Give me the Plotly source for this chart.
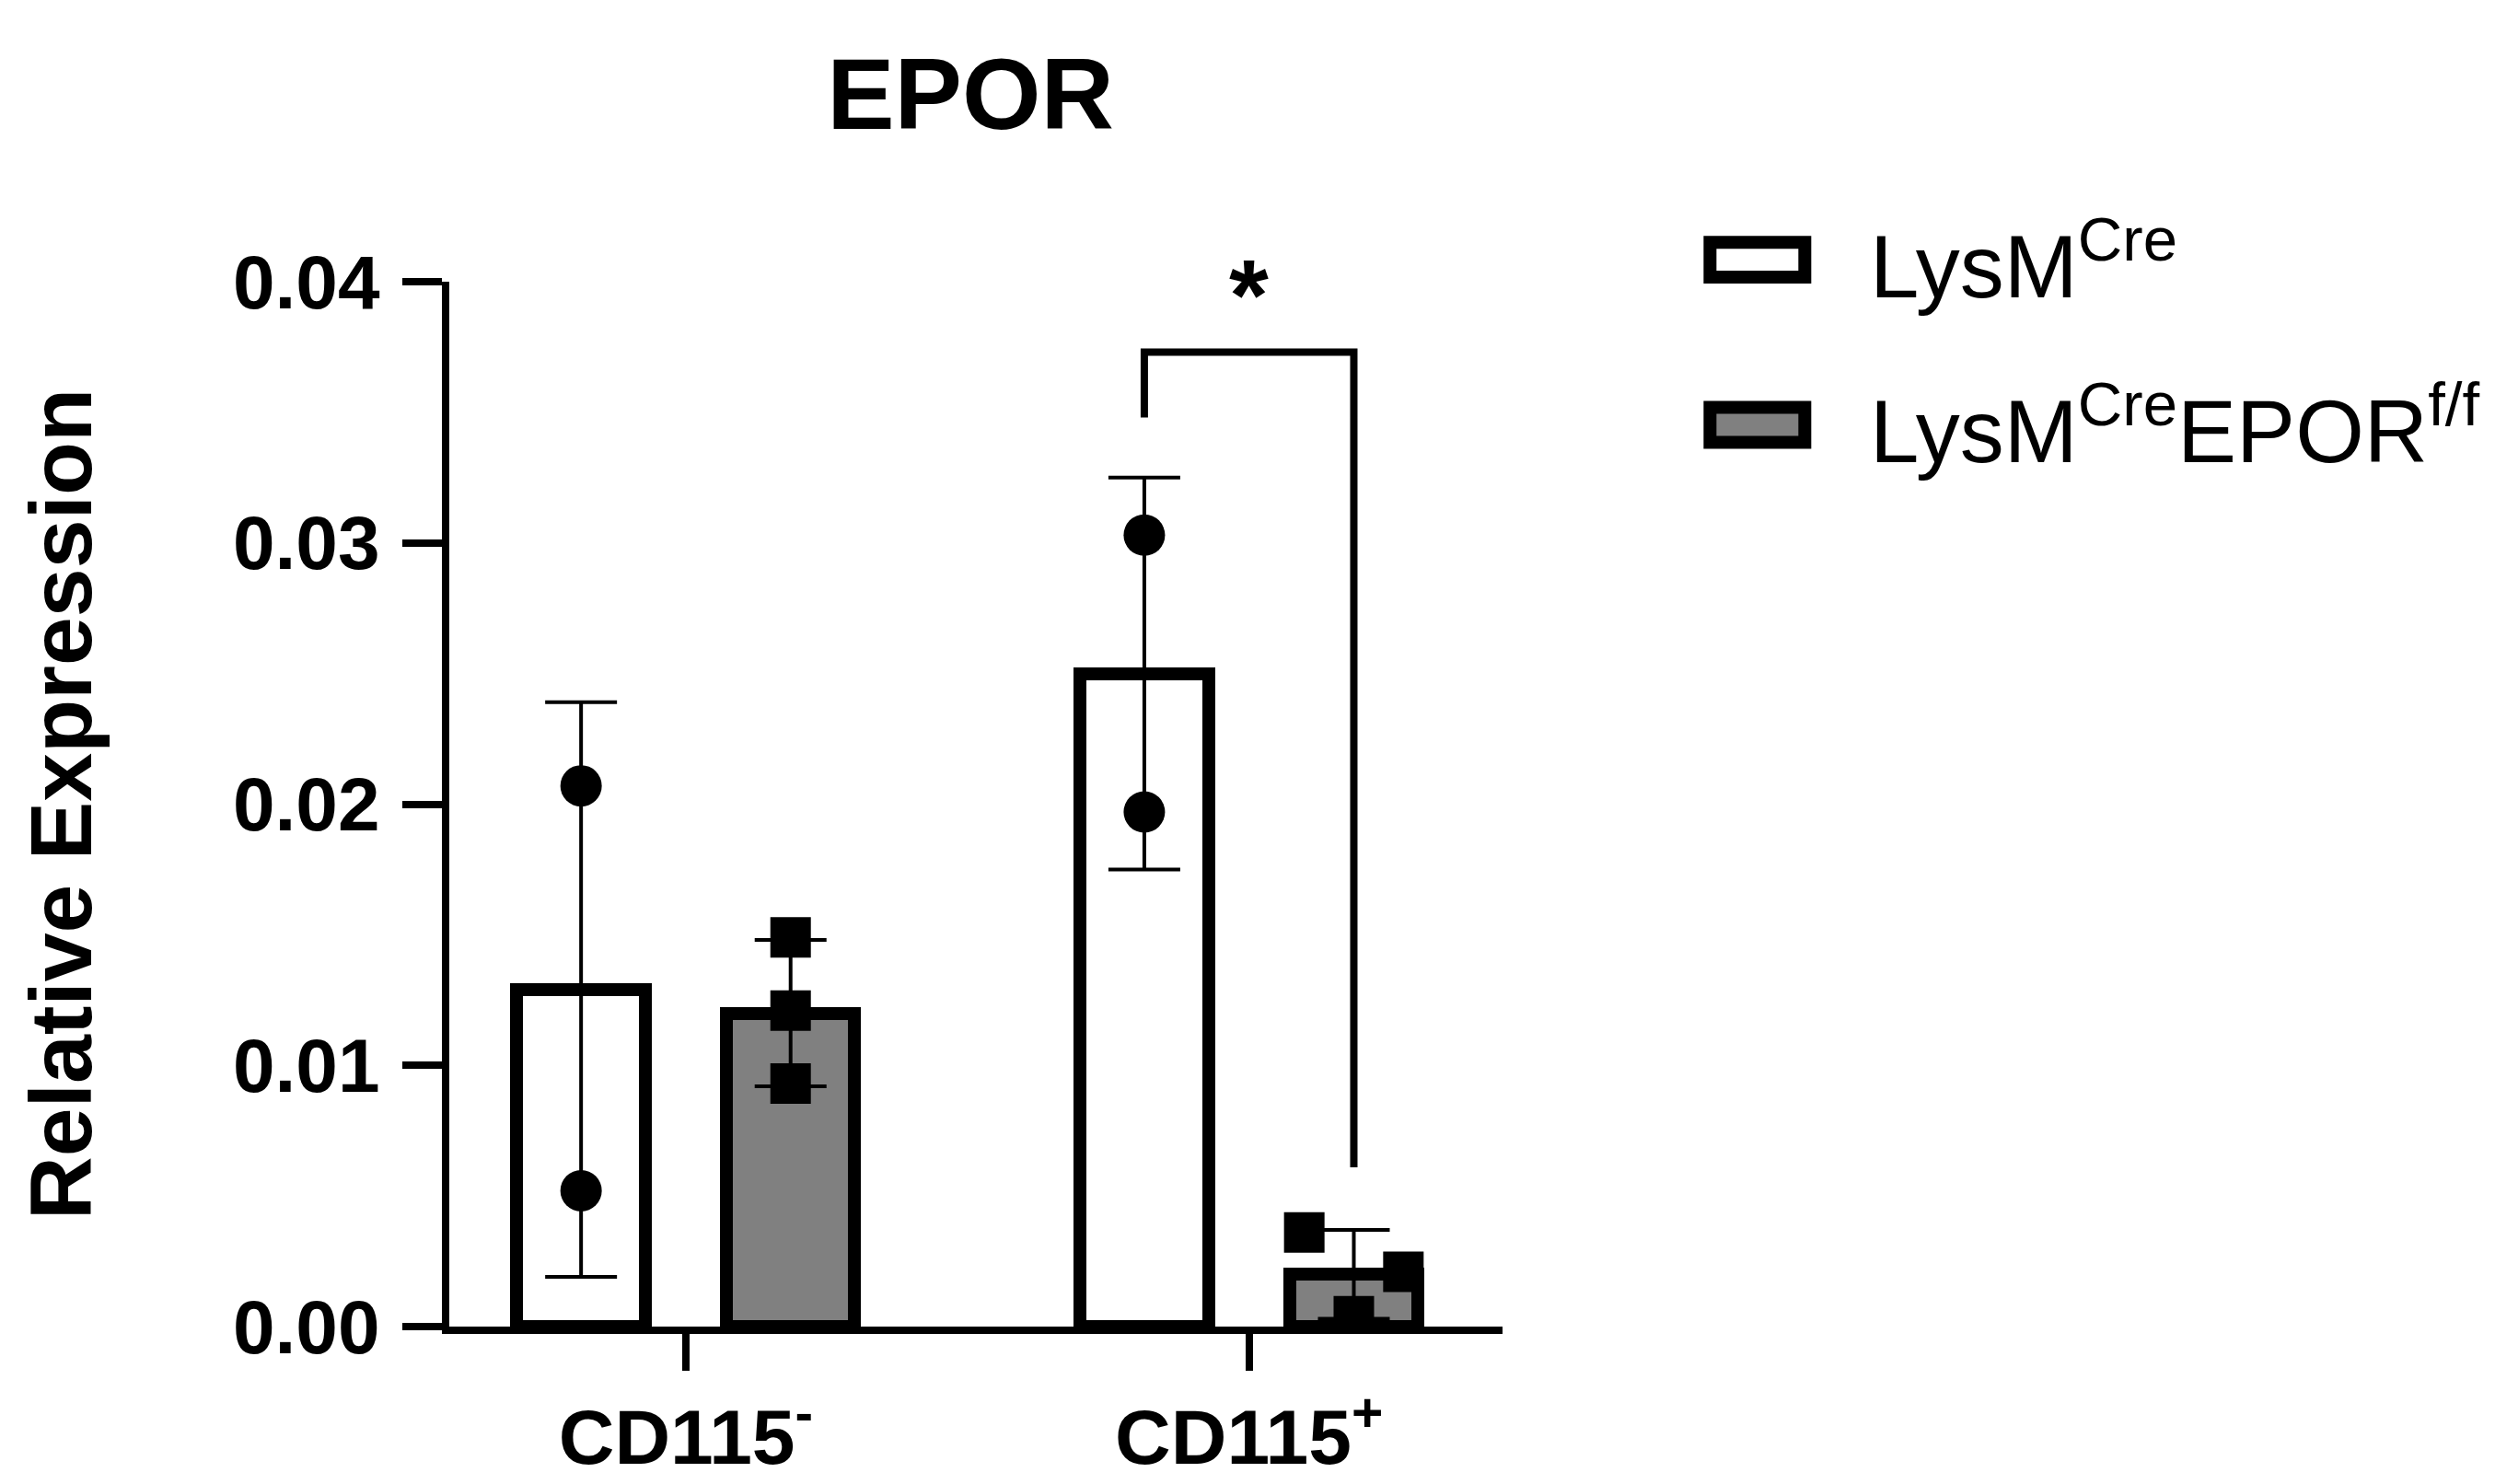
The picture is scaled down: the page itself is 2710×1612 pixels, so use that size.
import plotly.graph_objects as go

# data
groups = ["CD115<sup>-</sup>", "CD115<sup>+</sup>"]
series = ["LysM<sup>Cre</sup>", "LysM<sup>Cre</sup>EPOR<sup>f/f</sup>"]
cre_mean = [0.0129, 0.0250]
cre_sd = [0.0110, 0.0075]
ko_mean = [0.0120, 0.0020]
ko_sd = [0.0028, 0.0017]
cre_points = [[0.0207, 0.0052], [0.0303, 0.0197]]
ko_points = [[0.0149, 0.0121, 0.0093], [0.0036, 0.0021, 0.0004]]
ko_jitter = [[0, 0, 0], [-0.088, 0.088, 0]]   # horizontal scatter of squares
y_ticks = [0, 0.01, 0.02, 0.03, 0.04]

FONT = "Liberation Sans"
OFF = 0.186
BW = 0.228
xi = list(range(len(groups)))

fig = go.Figure()

fig.add_trace(go.Bar(
    x=[i - OFF for i in xi], y=cre_mean, width=BW,
    marker=dict(color="white", line=dict(color="black", width=14)),
    error_y=dict(type="data", array=cre_sd, color="black", thickness=4, width=39),
    showlegend=False))
fig.add_trace(go.Bar(
    x=[i + OFF for i in xi], y=ko_mean, width=BW,
    marker=dict(color="#808080", line=dict(color="black", width=14)),
    error_y=dict(type="data", array=ko_sd, color="black", thickness=4, width=39),
    showlegend=False))

# individual points
cx, cy = [], []
for i, pts in enumerate(cre_points):
    cx += [i - OFF] * len(pts)
    cy += pts
fig.add_trace(go.Scatter(x=cx, y=cy, mode="markers", showlegend=False,
                         marker=dict(symbol="circle", size=45, color="black")))
sx, sy = [], []
for i, pts in enumerate(ko_points):
    sx += [i + OFF + j for j in ko_jitter[i]]
    sy += pts
fig.add_trace(go.Scatter(x=sx, y=sy, mode="markers", showlegend=False,
                         marker=dict(symbol="square", size=44, color="black")))

# significance bracket on CD115+
bx0, bx1 = 1 - OFF, 1 + OFF
fig.add_shape(type="path",
              path=f"M {bx0} 0.0348 L {bx0} 0.0373 L {bx1} 0.0373 L {bx1} 0.0061",
              line=dict(color="black", width=8), xref="x", yref="y")
fig.add_annotation(x=1, y=0.0373, text="<b>*</b>", showarrow=False, yanchor="bottom",
                   yshift=0, font=dict(family=FONT, size=110, color="black"))

# legend drawn by hand (big boxes like the original)
leg_fill = ["white", "#808080"]
leg_y = [1.021, 0.863]
for k, name in enumerate(series):
    fig.add_shape(type="rect", xref="paper", yref="paper",
                  x0=1.197, x1=1.287, y0=leg_y[k] - 0.0167, y1=leg_y[k] + 0.0167,
                  fillcolor=leg_fill[k], line=dict(color="black", width=14))
    fig.add_annotation(xref="paper", yref="paper", x=1.347, y=leg_y[k], text=name,
                       showarrow=False, xanchor="left", yanchor="middle",
                       font=dict(family=FONT, size=96, color="black"))

axis_common = dict(showline=True, linecolor="black", linewidth=8, ticks="outside",
                   tickcolor="black", tickwidth=8, showgrid=False, zeroline=False)

fig.update_layout(
    width=2710, height=1612,
    margin=dict(l=480, r=1086, t=298, b=177),
    plot_bgcolor="white", paper_bgcolor="white",
    title=dict(text="<b>EPOR</b>", x=0.386, xanchor="center", y=0.942, yanchor="middle",
               font=dict(family=FONT, size=110, color="black")),
    bargap=0,
    xaxis=dict(range=[-0.42, 1.45], tickvals=xi, ticktext=[f"<b>{g}</b>" for g in groups],
               ticklen=40, tickfont=dict(family=FONT, size=84, color="black"),
               **axis_common),
    yaxis=dict(range=[0, 0.04], tickvals=y_ticks, ticktext=[f"<b>{v:.2f}</b>" for v in y_ticks],
               ticklen=43, ticklabelstandoff=8,
               tickfont=dict(family=FONT, size=82, color="black"),
               title=dict(text="<b>Relative Expression</b>", standoff=125,
                          font=dict(family=FONT, size=95, color="black")),
               **axis_common),
)

fig.write_html("out.html")
